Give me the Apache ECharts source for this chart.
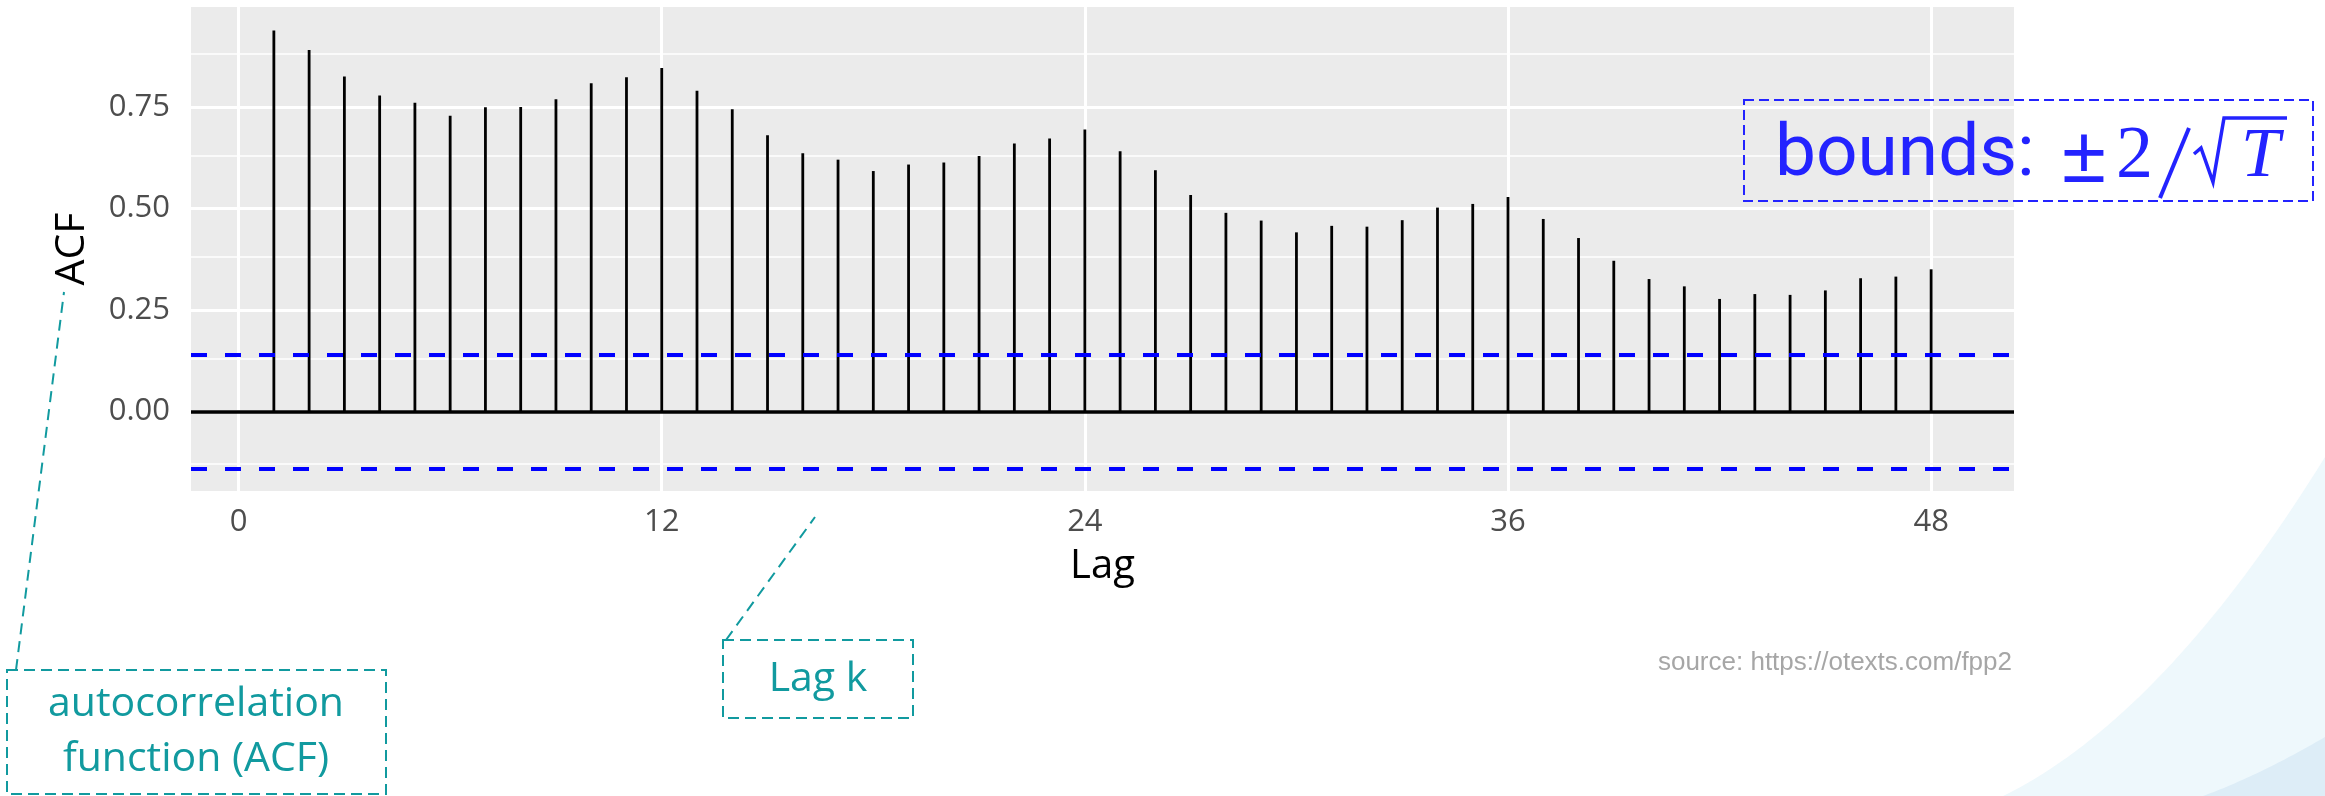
<!DOCTYPE html>
<html><head><meta charset="utf-8">
<script src="https://cdn.jsdelivr.net/npm/echarts@6/dist/echarts.min.js"></script>
<style>html,body{margin:0;padding:0;background:#fff}#c{width:2325px;height:796px}</style>
</head><body><div id="c"></div>
<script>
// ---- data ----
const lags = [1,2,3,4,5,6,7,8,9,10,11,12,13,14,15,16,17,18,19,20,21,22,23,24,
              25,26,27,28,29,30,31,32,33,34,35,36,37,38,39,40,41,42,43,44,45,46,47,48];
const acfValues = [0.938,0.890,0.825,0.778,0.760,0.728,0.749,0.750,0.769,0.808,0.823,0.846,
                   0.790,0.744,0.680,0.636,0.620,0.592,0.608,0.613,0.629,0.660,0.672,0.694,
                   0.641,0.594,0.533,0.489,0.470,0.441,0.457,0.455,0.471,0.502,0.511,0.528,
                   0.474,0.427,0.371,0.326,0.308,0.277,0.289,0.287,0.298,0.328,0.332,0.350];
const bound = 0.1445;
const xTicks = [0, 12, 24, 36, 48];
const xTickLabels = ['0', '12', '24', '36', '48'];
const yTicks = [0, 0.25, 0.5, 0.75];
const yTickLabels = ['0.00', '0.25', '0.50', '0.75'];
const yMinor = [-0.125, 0.125, 0.375, 0.625, 0.875];

const TEAL = '#119A9F';
const BLUE = '#2323FF';
const AX_FONT = '"Open Sans", "Noto Sans", sans-serif';

// decorative curved shape helper (quadratic curve sampled into a polygon)
function quadPoly(p0, c, p2, extra) {
  const pts = [];
  for (let i = 0; i <= 40; i++) {
    const t = i / 40, u = 1 - t;
    pts.push([u*u*p0[0] + 2*u*t*c[0] + t*t*p2[0], u*u*p0[1] + 2*u*t*c[1] + t*t*p2[1]]);
  }
  return pts.concat(extra);
}

const chart = echarts.init(document.getElementById('c'), null, {renderer: 'canvas'});

const gridLines = [].concat(
  xTicks.map(v => ({xAxis: v, lineStyle: {color: '#fff', width: 3, type: 'solid'}})),
  yTicks.map(v => ({yAxis: v, lineStyle: {color: '#fff', width: 3, type: 'solid'}})),
  yMinor.map(v => ({yAxis: v, lineStyle: {color: '#fff', width: 1.5, type: 'solid'}}))
);

const option = {
  backgroundColor: '#ffffff',
  animation: false,
  grid: {left: 191, right: 311, top: 7, bottom: 305, show: true,
         backgroundColor: '#EBEBEB', borderWidth: 0, containLabel: false},
  xAxis: {
    type: 'value', min: -1.35, max: 50.35,
    name: 'Lag', nameLocation: 'middle', nameGap: 56,
    nameTextStyle: {fontFamily: AX_FONT, fontSize: 40, color: '#000'},
    axisLine: {show: false},
    axisTick: {show: true, length: 10, customValues: xTicks, lineStyle: {color: '#333', width: 2.7}},
    axisLabel: {customValues: xTicks, margin: 16, fontFamily: AX_FONT, fontSize: 31, color: '#4D4D4D',
                formatter: v => xTickLabels[xTicks.indexOf(v)]},
    splitLine: {show: false}
  },
  yAxis: {
    type: 'value', min: -0.196, max: 0.996,
    name: 'ACF', nameLocation: 'middle', nameGap: 98, nameRotate: 90,
    nameTextStyle: {fontFamily: AX_FONT, fontSize: 41, color: '#000'},
    axisLine: {show: false},
    axisTick: {show: true, length: 10, customValues: yTicks, lineStyle: {color: '#333', width: 2.7}},
    axisLabel: {customValues: yTicks, margin: 21, fontFamily: AX_FONT, fontSize: 31, color: '#4D4D4D',
                formatter: v => yTickLabels[yTicks.indexOf(v)]},
    splitLine: {show: false}
  },
  series: [
    {
      name: 'grid', type: 'line', data: [], silent: true,
      markLine: {silent: true, symbol: 'none', z: 1, label: {show: false},
                 data: gridLines}
    },
    {
      name: 'ACF', type: 'custom', z: 3,
      data: lags.map((l, i) => [l, acfValues[i]]),
      encode: {x: 0, y: 1},
      renderItem: function (params, api) {
        const p0 = api.coord([api.value(0), 0]);
        const p1 = api.coord([api.value(0), api.value(1)]);
        return {type: 'line', shape: {x1: p0[0], y1: p0[1], x2: p1[0], y2: p1[1]},
                style: {stroke: '#000', lineWidth: 2.8}};
      },
      markLine: {silent: true, symbol: 'none', z: 4, label: {show: false},
        data: [
          {yAxis: 0, lineStyle: {color: '#000', width: 3.5, type: 'solid'}},
          {yAxis: bound, lineStyle: {color: '#0000FF', width: 3.8, type: [16, 18]}},
          {yAxis: -bound, lineStyle: {color: '#0000FF', width: 3.8, type: [16, 18]}}
        ]}
    }
  ],
  graphic: [
    // background decoration bottom-right
    {type: 'polygon', z: -10, silent: true,
     shape: {points: quadPoly([2325, 457], [2164, 717], [2003, 796], [[2325, 796]])},
     style: {fill: '#EEF8FC'}},
    {type: 'polygon', z: -9, silent: true,
     shape: {points: quadPoly([2325, 737], [2260, 775], [2203, 796], [[2325, 796]])},
     style: {fill: '#DDEDF7'}},
    // bounds annotation
    {type: 'rect', z: 50, shape: {x: 1744, y: 100, width: 569, height: 101},
     style: {fill: 'none', stroke: BLUE, lineWidth: 2, lineDash: [10, 5]}},
    {type: 'text', z: 50, x: 1775, y: 157,
     style: {text: 'bounds:', font: '73px Roboto', fill: BLUE, textAlign: 'left', verticalAlign: 'middle'}},
    {type: 'text', z: 50, x: 2062, y: 160,
     style: {text: '±', font: '80px "Liberation Sans"', fill: BLUE, textAlign: 'left', verticalAlign: 'middle'}},
    {type: 'text', z: 50, x: 2116, y: 158,
     style: {text: '2', font: '74px "Liberation Serif"', fill: BLUE, textAlign: 'left', verticalAlign: 'middle'}},
    {type: 'line', z: 50, shape: {x1: 2189, y1: 128, x2: 2160, y2: 198},
     style: {stroke: BLUE, lineWidth: 4}},
    {type: 'polyline', z: 50, shape: {points: [[2194, 154], [2201, 148], [2213, 182], [2224, 118], [2287, 118]]},
     style: {stroke: BLUE, lineWidth: 3.5, fill: null}},
    {type: 'text', z: 50, x: 2241, y: 158,
     style: {text: 'T', font: 'italic 70px "Liberation Serif"', fill: BLUE, textAlign: 'left', verticalAlign: 'middle'}},
    // ACF annotation
    {type: 'line', z: 50, shape: {x1: 16, y1: 670, x2: 64, y2: 292},
     style: {stroke: TEAL, lineWidth: 2, lineDash: [11, 7]}},
    {type: 'rect', z: 50, shape: {x: 7, y: 670, width: 379, height: 124},
     style: {fill: null, stroke: TEAL, lineWidth: 2, lineDash: [11, 6]}},
    {type: 'text', z: 50, x: 196, y: 704,
     style: {text: 'autocorrelation', font: '41px "Open Sans"', fill: TEAL, textAlign: 'center', verticalAlign: 'middle'}},
    {type: 'text', z: 50, x: 196, y: 759,
     style: {text: 'function (ACF)', font: '41px "Open Sans"', fill: TEAL, textAlign: 'center', verticalAlign: 'middle'}},
    // Lag k annotation
    {type: 'line', z: 50, shape: {x1: 726, y1: 640, x2: 815, y2: 517},
     style: {stroke: TEAL, lineWidth: 2, lineDash: [11, 7]}},
    {type: 'rect', z: 50, shape: {x: 723, y: 640, width: 190, height: 78},
     style: {fill: null, stroke: TEAL, lineWidth: 2, lineDash: [11, 6]}},
    {type: 'text', z: 50, x: 818, y: 679,
     style: {text: 'Lag k', font: '41px "Open Sans"', fill: TEAL, textAlign: 'center', verticalAlign: 'middle'}},
    // source
    {type: 'text', z: 50, x: 2012, y: 663,
     style: {text: 'source: https://otexts.com/fpp2', font: '26px "Liberation Sans"', fill: '#A6A6A6', textAlign: 'right', verticalAlign: 'middle'}}
  ]
};
chart.setOption(option);
</script>
</body></html>
